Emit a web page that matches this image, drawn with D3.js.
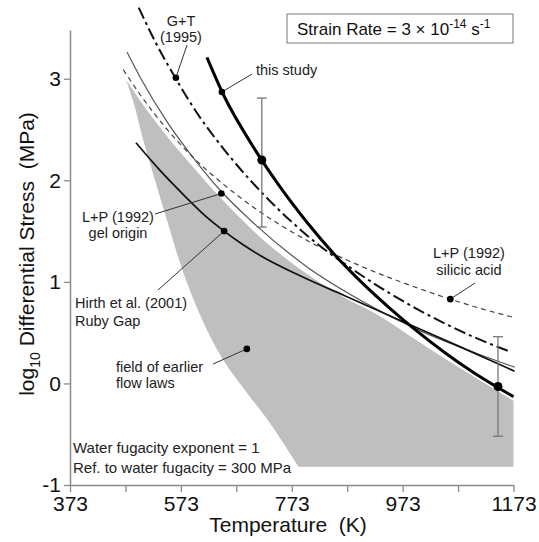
<!DOCTYPE html>
<html>
<head>
<meta charset="utf-8">
<script src="https://cdn.jsdelivr.net/npm/d3@7"></script>
<style>
  body { margin: 0; background: #fff; }
  svg { font-family: "Liberation Sans", Arial, sans-serif; }
</style>
</head>
<body>
<svg id="chart" width="539" height="542"></svg>
<script>
// axis ticks
const tempTicks = [373, 473, 573, 673, 773, 873, 973, 1073, 1173];
const tempLabels = [373, 573, 773, 973, 1173];
const stressTicks = [-1, 0, 1, 2, 3];

// curves: [temperature K, log10 differential stress MPa]
const thisStudy = [[620, 3.21], [650, 2.84], [700, 2.36], [750, 1.95], [800, 1.59], [850, 1.27], [900, 0.99],
  [950, 0.74], [1000, 0.51], [1050, 0.30], [1100, 0.11], [1173, -0.13]];
const gtCurve = [[497, 3.70], [530, 3.33], [564, 3.00], [600, 2.68], [650, 2.31], [700, 1.99], [800, 1.46],
  [900, 1.06], [1000, 0.73], [1100, 0.46], [1168, 0.31]];
const silicicAcid = [[469, 3.09], [500, 2.84], [550, 2.49], [600, 2.20], [650, 1.96], [700, 1.75], [800, 1.41],
  [900, 1.15], [1000, 0.94], [1100, 0.76], [1173, 0.65]];
const gelOrigin = [[476, 3.26], [500, 3.01], [550, 2.56], [600, 2.19], [646, 1.89], [700, 1.60], [800, 1.15],
  [900, 0.81], [1000, 0.53], [1100, 0.31], [1175, 0.16]];
const hirth = [[492, 2.37], [535, 2.10], [581, 1.84], [617, 1.65], [651, 1.50], [684, 1.37], [716, 1.26],
  [788, 1.06], [866, 0.87], [969, 0.62], [1077, 0.36], [1175, 0.12]];

// field of earlier flow laws (grey area)
const fieldTop = [[474, 2.99], [500, 2.78], [550, 2.42], [600, 2.10], [646, 1.82], [716, 1.44], [800, 1.08],
  [866, 0.85], [933, 0.66], [1005, 0.40], [1059, 0.21], [1113, 0.03], [1173, -0.17]];
const fieldLeft = [[474, 2.99], [489, 2.74], [503, 2.44], [521, 2.10], [545, 1.66], [575, 1.13], [608, 0.67],
  [644, 0.28], [689, -0.07], [731, -0.37], [785, -0.82]];
const fieldFloor = -0.82;

// this study data with error bars
const errorBars = [{ T: 719, mid: 2.20, lo: 1.54, hi: 2.81 }, { T: 1145, mid: -0.03, lo: -0.52, hi: 0.46 }];

// labelled points
const markedPoints = [
  { key: 'gt', T: 564, s: 3.01 },
  { key: 'study', T: 647, s: 2.87 },
  { key: 'gel', T: 646, s: 1.87 },
  { key: 'hirth', T: 651, s: 1.50 },
  { key: 'silicic', T: 1059, s: 0.83 },
  { key: 'field', T: 692, s: 0.34 }
];

const labelLayout = {
  gt: { text: ['G+T', '(1995)'], x: 181, y: 21, anchor: 'middle', dy: 16, lead: [187, 45] },
  study: { text: ['this study'], x: 256, y: 70, anchor: 'start', dy: 0, lead: [252, 74] },
  gel: { text: ['L+P (1992)', 'gel origin'], x: 118, y: 217, anchor: 'middle', dy: 16, lead: [155, 214] },
  hirth: { text: ['Hirth et al. (2001)', 'Ruby Gap'], x: 75, y: 303, anchor: 'start', dy: 18, lead: [158, 290] },
  silicic: { text: ['L+P (1992)', 'silicic acid'], x: 469, y: 253, anchor: 'middle', dy: 17, lead: [475, 283] },
  field: { text: ['field of earlier', 'flow laws'], x: 116, y: 367, anchor: 'start', dy: 16, lead: [213, 364] }
};

const svg = d3.select('#chart');
const x = d3.scaleLinear().domain([373, 1173]).range([70, 513.5]);
const y = d3.scaleLinear().domain([-1, 3.48]).range([485, 30]);

const line = d3.line().x(d => x(d[0])).y(d => y(d[1])).curve(d3.curveMonotoneX);

// grey field
const topPath = line(fieldTop);
const leftPath = line(fieldLeft.slice().reverse()).replace(/^M/, 'L');
svg.append('path')
  .attr('d', topPath + `L${x(1173)},${y(fieldFloor)}` + `L${x(fieldLeft[fieldLeft.length - 1][0])},${y(fieldFloor)}` + leftPath + 'Z')
  .attr('fill', '#bfbfbf');

// axes
const xAxis = d3.axisBottom(x).tickValues(tempTicks).tickSize(7).tickSizeOuter(0)
  .tickFormat(d => tempLabels.includes(d) ? d : '');
const yAxis = d3.axisLeft(y).tickValues(stressTicks).tickSize(6).tickSizeOuter(0);

const gx = svg.append('g').attr('transform', `translate(0,${y(-1)})`).call(xAxis);
const gy = svg.append('g').attr('transform', `translate(${x(373)},0)`).call(yAxis);
[gx, gy].forEach(g => {
  g.attr('font-family', null);
  g.select('.domain').attr('stroke', '#8a8a8a').attr('stroke-width', 1.5);
  g.selectAll('.tick line').attr('stroke', '#8a8a8a').attr('stroke-width', 1.3);
  g.selectAll('.tick text').attr('font-size', 21).attr('fill', '#111');
});
gx.selectAll('.tick text').attr('y', 11);
gy.selectAll('.tick text').attr('x', -9).text(d => d < 0 ? '-' + Math.abs(d) : d);

// axis titles
svg.append('text')
  .attr('x', 288).attr('y', 525).attr('dy', '0.35em')
  .attr('text-anchor', 'middle').attr('font-size', 21).attr('fill', '#111')
  .attr('xml:space', 'preserve')
  .text('Temperature  (K)');

const yt = svg.append('text')
  .attr('transform', 'translate(27,254) rotate(-90)')
  .attr('text-anchor', 'middle').attr('dy', '0.35em').attr('font-size', 21).attr('fill', '#111')
  .attr('xml:space', 'preserve');
yt.append('tspan').text('log');
yt.append('tspan').attr('font-size', 14).attr('dy', 6).text('10');
yt.append('tspan').attr('dy', -6).text(' Differential Stress  (MPa)');

// curves
svg.append('path').attr('d', line(gelOrigin)).attr('fill', 'none')
  .attr('stroke', '#555').attr('stroke-width', 1.2);
svg.append('path').attr('d', line(silicicAcid)).attr('fill', 'none')
  .attr('stroke', '#444').attr('stroke-width', 1.2).attr('stroke-dasharray', '5,4');
svg.append('path').attr('d', line(hirth)).attr('fill', 'none')
  .attr('stroke', '#111').attr('stroke-width', 1.7);
svg.append('path').attr('d', line(gtCurve)).attr('fill', 'none')
  .attr('stroke', '#111').attr('stroke-width', 2).attr('stroke-dasharray', '12,4,3,4');
svg.append('path').attr('d', line(thisStudy)).attr('fill', 'none')
  .attr('stroke', '#000').attr('stroke-width', 3);

// error bars
const eb = svg.selectAll('.errbar').data(errorBars).enter().append('g').attr('class', 'errbar');
eb.append('line')
  .attr('x1', d => x(d.T)).attr('x2', d => x(d.T))
  .attr('y1', d => y(d.lo)).attr('y2', d => y(d.hi))
  .attr('stroke', '#777').attr('stroke-width', 1.3);
['lo', 'hi'].forEach(k => {
  eb.append('line')
    .attr('x1', d => x(d.T) - 5).attr('x2', d => x(d.T) + 5)
    .attr('y1', d => y(d[k])).attr('y2', d => y(d[k]))
    .attr('stroke', '#777').attr('stroke-width', 1.3);
});
eb.append('circle')
  .attr('cx', d => x(d.T)).attr('cy', d => y(d.mid)).attr('r', 4.5).attr('fill', '#000');

// annotations: leader lines, dots, labels
markedPoints.forEach(p => {
  const lay = labelLayout[p.key];
  svg.append('line')
    .attr('x1', x(p.T)).attr('y1', y(p.s))
    .attr('x2', lay.lead[0]).attr('y2', lay.lead[1])
    .attr('stroke', '#333').attr('stroke-width', 1);
  svg.append('circle').attr('cx', x(p.T)).attr('cy', y(p.s)).attr('r', 3.3).attr('fill', '#000');
  lay.text.forEach((t, i) => {
    svg.append('text')
      .attr('x', lay.x).attr('y', lay.y + i * lay.dy).attr('dy', '0.35em')
      .attr('text-anchor', lay.anchor).attr('font-size', 14.5).attr('fill', '#222')
      .text(t);
  });
});

// notes
svg.append('text').attr('x', 73).attr('y', 448).attr('dy', '0.35em')
  .attr('font-size', 15).attr('fill', '#222').text('Water fugacity exponent = 1');
svg.append('text').attr('x', 73).attr('y', 468).attr('dy', '0.35em')
  .attr('font-size', 15).attr('fill', '#222').text('Ref. to water fugacity = 300 MPa');

// strain rate box
svg.append('rect').attr('x', 287).attr('y', 14).attr('width', 226).attr('height', 29)
  .attr('fill', '#fff').attr('stroke', '#777').attr('stroke-width', 1);
const sr = svg.append('text').attr('x', 297).attr('y', 35).attr('font-size', 17).attr('fill', '#111');
sr.append('tspan').text('Strain Rate = 3 × 10');
sr.append('tspan').attr('font-size', 12).attr('dy', -7).text('-14');
sr.append('tspan').attr('dy', 7).text(' s');
sr.append('tspan').attr('font-size', 12).attr('dy', -7).text('-1');
</script>
</body>
</html>
